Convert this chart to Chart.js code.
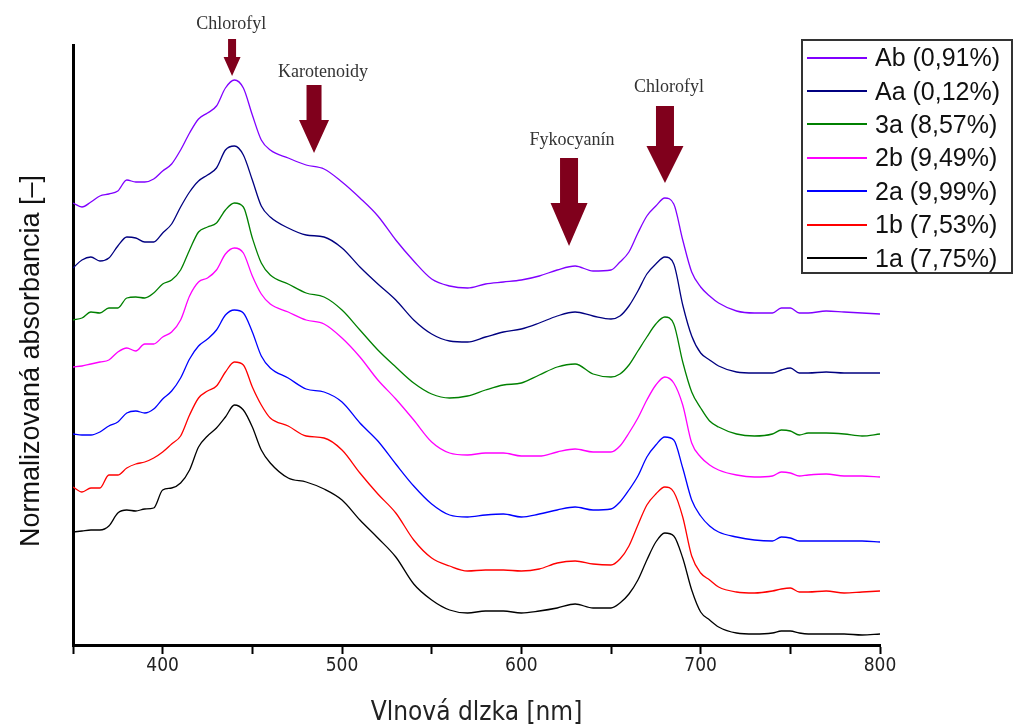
<!DOCTYPE html>
<html>
<head>
<meta charset="utf-8">
<script src="https://cdn.jsdelivr.net/npm/chart.js@4.4.1/dist/chart.umd.min.js"></script>
<style>
html,body{margin:0;padding:0;background:#fff;}
#wrap{position:relative;width:1013px;height:726px;overflow:hidden;}
#legend{position:absolute;left:801px;top:39px;width:212px;height:235px;border:2px solid #333;box-sizing:border-box;background:#fff;
  font-family:"Liberation Sans",Arial,sans-serif;font-size:25px;color:#111;}
.row{position:relative;height:33.4px;display:flex;align-items:center;white-space:nowrap;}
.sw{width:60px;height:2px;margin-left:4px;margin-right:8px;flex:none;}
</style>
</head>
<body>
<div id="wrap">
<canvas id="c" width="1013" height="726"></canvas>
<div id="legend"></div>
</div>
<script>
// ---- data ----
const wavelengths = [350,355,360,365,370,375,380,385,390,395,400,405,410,415,420,425,430,435,440,445,450,455,460,
  470,480,490,500,510,520,530,540,550,560,570,580,590,600,610,620,630,640,650,
  655,660,665,670,675,680,685,690,695,700,705,710,720,730,740,745,750,755,760,770,780,790,800];

const seriesLabels = ['Ab (0,91%)','Aa (0,12%)','3a (8,57%)','2b (9,49%)','2a (9,99%)','1b (7,53%)','1a (7,75%)'];

const absAb = [4.42,4.38,4.43,4.49,4.51,4.54,4.65,4.63,4.63,4.66,4.74,4.81,4.95,5.12,5.26,5.32,5.39,5.57,5.65,5.57,5.30,5.05,4.95,
  4.87,4.80,4.76,4.63,4.47,4.29,4.05,3.84,3.66,3.59,3.57,3.61,3.63,3.65,3.69,3.75,3.79,3.74,3.75,
  3.83,3.93,4.12,4.29,4.39,4.47,4.41,4.05,3.73,3.58,3.49,3.42,3.34,3.32,3.32,3.37,3.37,3.32,3.32,3.34,3.33,3.32,3.31];
const absAa = [3.77,3.85,3.88,3.84,3.87,3.99,4.08,4.07,4.03,4.03,4.12,4.21,4.38,4.53,4.64,4.70,4.77,4.95,4.99,4.90,4.65,4.39,4.28,
  4.17,4.10,4.08,3.97,3.78,3.61,3.45,3.25,3.11,3.04,3.03,3.08,3.13,3.16,3.22,3.29,3.33,3.29,3.26,
  3.29,3.39,3.54,3.71,3.81,3.88,3.81,3.40,3.09,2.92,2.85,2.79,2.73,2.72,2.72,2.75,2.77,2.72,2.72,2.73,2.72,2.72,2.72];
const abs3a = [3.25,3.27,3.33,3.32,3.37,3.37,3.47,3.48,3.47,3.52,3.61,3.65,3.75,3.95,4.13,4.18,4.22,4.35,4.42,4.38,4.07,3.82,3.70,
  3.61,3.52,3.48,3.35,3.15,2.95,2.78,2.62,2.51,2.47,2.49,2.55,2.60,2.62,2.70,2.78,2.81,2.71,2.68,
  2.71,2.80,2.94,3.08,3.21,3.28,3.21,2.83,2.53,2.37,2.24,2.18,2.11,2.09,2.11,2.15,2.14,2.10,2.12,2.12,2.11,2.09,2.11];
const abs2b = [2.78,2.79,2.81,2.83,2.85,2.93,2.97,2.94,3.01,3.01,3.08,3.13,3.25,3.49,3.63,3.67,3.75,3.91,3.97,3.92,3.69,3.51,3.41,
  3.33,3.25,3.21,3.07,2.88,2.65,2.46,2.25,2.03,1.92,1.90,1.92,1.92,1.89,1.89,1.93,1.96,1.93,1.93,
  1.99,2.12,2.27,2.45,2.60,2.68,2.62,2.40,2.02,1.88,1.80,1.75,1.70,1.68,1.69,1.73,1.72,1.69,1.70,1.71,1.69,1.69,1.68];
const abs2a = [2.11,2.10,2.10,2.13,2.19,2.23,2.32,2.34,2.32,2.36,2.46,2.54,2.67,2.86,2.99,3.06,3.15,3.30,3.35,3.32,3.13,2.89,2.77,
  2.67,2.56,2.53,2.43,2.22,2.04,1.81,1.59,1.41,1.30,1.28,1.30,1.31,1.28,1.31,1.35,1.38,1.35,1.36,
  1.43,1.55,1.69,1.88,2.00,2.08,2.05,1.77,1.45,1.29,1.19,1.13,1.08,1.05,1.04,1.08,1.07,1.04,1.04,1.04,1.04,1.04,1.03];
const abs1b = [1.58,1.53,1.57,1.57,1.70,1.70,1.77,1.81,1.83,1.87,1.93,2.01,2.09,2.30,2.47,2.54,2.59,2.73,2.83,2.80,2.58,2.40,2.27,
  2.19,2.09,2.07,1.95,1.72,1.51,1.32,1.05,0.87,0.79,0.74,0.75,0.75,0.74,0.76,0.82,0.84,0.81,0.80,
  0.86,0.99,1.20,1.40,1.51,1.58,1.53,1.28,0.89,0.72,0.65,0.58,0.53,0.52,0.54,0.56,0.57,0.53,0.53,0.54,0.52,0.53,0.54];
const abs1a = [1.13,1.14,1.15,1.15,1.19,1.32,1.35,1.34,1.36,1.37,1.55,1.57,1.62,1.75,1.98,2.09,2.17,2.28,2.40,2.35,2.18,1.95,1.82,
  1.67,1.63,1.56,1.45,1.25,1.07,0.88,0.61,0.45,0.35,0.32,0.34,0.34,0.32,0.34,0.37,0.41,0.37,0.37,
  0.42,0.51,0.65,0.85,1.03,1.12,1.09,0.87,0.55,0.33,0.25,0.18,0.12,0.11,0.12,0.14,0.14,0.12,0.11,0.11,0.11,0.10,0.11];

const xTicks = [350,400,450,500,550,600,650,700,750,800];
const xTickLabels = [400,500,600,700,800];

// annotation arrows: wavelength position and absorbance-axis levels
const arrowLabels = ['Chlorofyl','Karotenoidy','Fykocyanín','Chlorofyl'];
const arrowWl     = [438.7, 484.4, 626.6, 680.1];
const arrowTail   = [6.06, 5.60, 4.87, 5.39];
const arrowNeck   = [5.88, 5.25, 4.42, 4.99];
const arrowTip    = [5.69, 4.92, 3.99, 4.62];
const labelWl     = [438.2, 489.4, 628.3, 682.4];
const labelLevel  = [6.16, 5.68, 5.00, 5.53];
const arrowShaftPx = [8, 15, 18, 18];
const arrowHeadPx  = [17, 30, 37, 37];

const seriesValues = [absAb, absAa, abs3a, abs2b, abs2a, abs1b, abs1a];
const seriesColors = ['#8000ff','#000080','#008000','#ff00ff','#0000ff','#ff0000','#000000'];

const datasets = seriesValues.map((vals, i) => ({
  label: seriesLabels[i],
  data: wavelengths.map((w, j) => ({x: w, y: vals[j]})),
  borderColor: seriesColors[i],
  backgroundColor: seriesColors[i],
  borderWidth: 1.3,
  pointRadius: 0,
  cubicInterpolationMode: 'monotone',
  fill: false
}));

const arrowPlugin = {
  id: 'arrows',
  afterLayout(chart) {
    const s = chart.scales.y;
    if (s && !s._titleShifted) {
      const orig = s.drawTitle;
      s.drawTitle = function () {
        this.ctx.save();
        this.ctx.translate(0, 16);
        orig.apply(this, arguments);
        this.ctx.restore();
      };
      s._titleShifted = true;
    }
  },
  afterDraw(chart) {
    const {ctx, scales: {x, y}} = chart;
    ctx.save();
    for (let i = 0; i < arrowLabels.length; i++) {
      const cx = x.getPixelForValue(arrowWl[i]);
      const yT = y.getPixelForValue(arrowTail[i]);
      const yN = y.getPixelForValue(arrowNeck[i]);
      const yP = y.getPixelForValue(arrowTip[i]);
      const sw = arrowShaftPx[i] / 2, hw = arrowHeadPx[i] / 2;
      ctx.fillStyle = '#80001c';
      ctx.beginPath();
      ctx.moveTo(cx - sw, yT);
      ctx.lineTo(cx + sw, yT);
      ctx.lineTo(cx + sw, yN);
      ctx.lineTo(cx + hw, yN);
      ctx.lineTo(cx, yP);
      ctx.lineTo(cx - hw, yN);
      ctx.lineTo(cx - sw, yN);
      ctx.closePath();
      ctx.fill();
      ctx.fillStyle = '#333';
      ctx.font = '18px "Liberation Serif", "Times New Roman", serif';
      ctx.textAlign = 'center';
      ctx.textBaseline = 'alphabetic';
      ctx.fillText(arrowLabels[i], x.getPixelForValue(labelWl[i]), y.getPixelForValue(labelLevel[i]));
    }
    ctx.restore();
  }
};

const chart = new Chart(document.getElementById('c'), {
  type: 'line',
  data: {datasets},
  plugins: [arrowPlugin],
  options: {
    responsive: false,
    animation: false,
    devicePixelRatio: 1,
    layout: {padding: {top: 45, right: 133, left: 0, bottom: 0}},
    plugins: {legend: {display: false}, tooltip: {enabled: false}},
    scales: {
      x: {
        type: 'linear', min: 350, max: 800,
        afterBuildTicks: s => { s.ticks = xTicks.map(v => ({value: v})); },
        afterFit: s => { s.height = 81; },
        ticks: {
          autoSkip: false, maxRotation: 0, padding: 1,
          callback: v => xTickLabels.includes(v) ? String(v) : '',
          font: {family: '"DejaVu Sans Condensed", "Liberation Sans Narrow", sans-serif', size: 19},
          color: '#222'
        },
        grid: {display: true, drawOnChartArea: false, drawTicks: true, tickLength: 9, tickWidth: 2, tickColor: '#000'},
        border: {display: true, width: 3, color: '#000'},
        title: {display: true, text: 'Vlnová dlzka [nm]', color: '#222',
          font: {family: '"DejaVu Sans Condensed", "Liberation Sans Narrow", sans-serif', size: 26, lineHeight: 1},
          padding: {top: 0, bottom: 0}}
      },
      y: {
        min: 0, max: 6,
        afterFit: s => { s.width = 73; },
        ticks: {display: false},
        grid: {display: false, drawTicks: false},
        border: {display: true, width: 3, color: '#000'},
        title: {display: true, text: 'Normalizovaná absorbancia [–]', color: '#111',
          font: {family: '"Liberation Sans", Arial, sans-serif', size: 27, lineHeight: 1.2},
          padding: {top: 15, bottom: 0}}
      }
    }
  }
});

// HTML legend generated from the chart's datasets
const leg = document.getElementById('legend');
chart.data.datasets.forEach(ds => {
  const row = document.createElement('div');
  row.className = 'row';
  const sw = document.createElement('span');
  sw.className = 'sw';
  sw.style.background = ds.borderColor;
  const tx = document.createElement('span');
  tx.textContent = ds.label;
  row.appendChild(sw); row.appendChild(tx);
  leg.appendChild(row);
});
</script>
</body>
</html>
